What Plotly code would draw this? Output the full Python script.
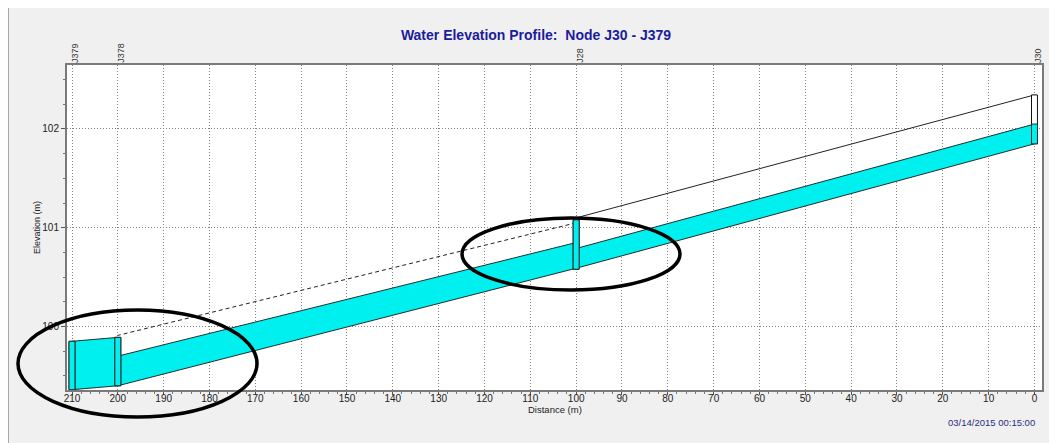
import plotly.graph_objects as go

# ---------------- data ----------------
node_names = ["J379", "J378", "J28", "J30"]
node_dist = [210, 200, 100, 0]
node_invert = [99.36, 99.40, 100.58, 101.85]
node_rim = [99.85, 99.89, 101.08, 102.345]
node_water = [99.85, 99.89, 101.08, 102.05]

# links: (upstream node index, downstream node index)
link_from = [3, 2, 1]
link_to = [2, 1, 0]
link_inv_up = [101.85, 100.59, 99.40]
link_inv_dn = [100.59, 99.40, 99.36]
link_wl_up = [102.05, 100.85, 99.89]
link_wl_dn = [100.79, 99.70, 99.85]

# ground line segments
ground_solid_x = [0, 100]
ground_solid_y = [102.345, 101.10]
ground_dash_x = [100, 200]
ground_dash_y = [101.05, 99.91]

x_ticks = list(range(0, 211, 10))
y_ticks = [100, 101, 102]

title_text = "Water Elevation Profile:  Node J30 - J379"
date_text = "03/14/2015 00:15:00"

CYAN = "#00F0F0"
EDGE = "#1f2f2f"
NODE_HALF_W = 0.65
FONT = "Liberation Sans, Arial"
GRID_DASH = "1px,2px"

# page body has an 8px margin: figure is offset by (8, 8) on screen
FIG_W, FIG_H = 1049, 435
PL, PR, PT, PB = 59, 15, 57, 53
PW = FIG_W - PL - PR
PH = FIG_H - PT - PB


def px(sx):  # screen x -> paper x
    return (sx - 8 - PL) / PW


def py(sy):  # screen y -> paper y
    return (FIG_H - PB - (sy - 8)) / PH


fig = go.Figure()

# pipes (water filled)
for i in range(len(link_from)):
    xa = node_dist[link_from[i]]
    xb = node_dist[link_to[i]]
    fig.add_trace(go.Scatter(
        x=[xa, xb, xb, xa, xa],
        y=[link_inv_up[i], link_inv_dn[i], link_wl_dn[i], link_wl_up[i], link_inv_up[i]],
        mode="lines", fill="toself", fillcolor=CYAN,
        line=dict(color=EDGE, width=1), hoverinfo="skip", showlegend=False))

# ground lines
fig.add_trace(go.Scatter(x=ground_solid_x, y=ground_solid_y, mode="lines",
                         line=dict(color="#222222", width=1), showlegend=False, hoverinfo="skip"))
fig.add_trace(go.Scatter(x=ground_dash_x, y=ground_dash_y, mode="lines",
                         line=dict(color="#222222", width=1, dash="4px,3px"), showlegend=False,
                         hoverinfo="skip"))

# nodes
for i in range(len(node_names)):
    x0 = node_dist[i] - NODE_HALF_W
    x1 = node_dist[i] + NODE_HALF_W
    fig.add_trace(go.Scatter(
        x=[x0, x1, x1, x0, x0],
        y=[node_invert[i], node_invert[i], node_rim[i], node_rim[i], node_invert[i]],
        mode="lines", fill="toself", fillcolor="white",
        line=dict(color="#111111", width=1), showlegend=False, hoverinfo="skip"))
    fig.add_trace(go.Scatter(
        x=[x0, x1, x1, x0, x0],
        y=[node_invert[i], node_invert[i], node_water[i], node_water[i], node_invert[i]],
        mode="lines", fill="toself", fillcolor=CYAN,
        line=dict(color=EDGE, width=1), showlegend=False, hoverinfo="skip"))

# node labels
for i in range(len(node_names)):
    fig.add_annotation(x=node_dist[i], y=1, xref="x", yref="paper",
                       text=node_names[i], textangle=-90, showarrow=False,
                       xanchor="center", yanchor="bottom", yshift=0, xshift=3,
                       font=dict(family=FONT, size=9, color="#333333"))

# x axis title
fig.add_annotation(x=0.5, y=py(409), xref="paper", yref="paper", text="Distance (m)",
                   showarrow=False, xanchor="center", yanchor="middle",
                   font=dict(family=FONT, size=9.5, color="#222222"))

# date
fig.add_annotation(x=px(1037), y=py(422), xref="paper", yref="paper", text=date_text,
                   showarrow=False, xanchor="right", yanchor="middle",
                   font=dict(family=FONT, size=9.5, color="#2b2b80"))

# hand-drawn ellipses (screen pixel boxes -> paper coordinates)
ellipse_boxes = [(18, 310, 257, 417), (462, 218, 680, 290)]
for (sx0, sy0, sx1, sy1) in ellipse_boxes:
    fig.add_shape(type="circle", xref="paper", yref="paper",
                  x0=px(sx0), y0=py(sy1), x1=px(sx1), y1=py(sy0),
                  line=dict(color="black", width=3.5), layer="above")

# window panel border on the left
fig.add_shape(type="line", xref="paper", yref="paper", x0=px(8.5), x1=px(8.5),
              y0=py(450), y1=py(0), line=dict(color="#a8a8a8", width=1))

fig.update_layout(
    width=FIG_W, height=FIG_H,
    margin=dict(l=PL, r=PR, t=PT, b=PB),
    paper_bgcolor="#f0f0f0", plot_bgcolor="white",
    title=dict(text="<b>" + title_text + "</b>", x=(536 - 8) / FIG_W, xanchor="center",
               y=1 - (35 - 8) / FIG_H, yanchor="middle",
               font=dict(family=FONT, size=14, color="#1c1c9c")),
    font=dict(family=FONT, size=10, color="#222222"),
    xaxis=dict(range=[211.09, -1.64], tickvals=x_ticks, showgrid=True, gridcolor="#808080",
               griddash=GRID_DASH, gridwidth=1, zeroline=False,
               showline=True, mirror=True, linecolor="#7a7a7a", linewidth=2,
               ticks="outside", ticklen=3, tickcolor="#555555", ticklabelstandoff=-5,
               minor=dict(dtick=2, ticks="outside", ticklen=2, tickcolor="#777777", showgrid=False),
               tickfont=dict(size=10, color="#222222")),
    yaxis=dict(range=[99.357, 102.648], tickvals=y_ticks, showgrid=True, gridcolor="#808080",
               griddash=GRID_DASH, gridwidth=1, zeroline=False,
               showline=True, mirror=True, linecolor="#7a7a7a", linewidth=2,
               ticks="outside", ticklen=4, tickcolor="#555555",
               minor=dict(dtick=0.25, ticks="outside", ticklen=2, tickcolor="#777777", showgrid=False),
               title=dict(text="Elevation (m)", font=dict(size=9, color="#222222"), standoff=0),
               tickfont=dict(size=10, color="#222222")),
)

fig.write_html("out.html")
